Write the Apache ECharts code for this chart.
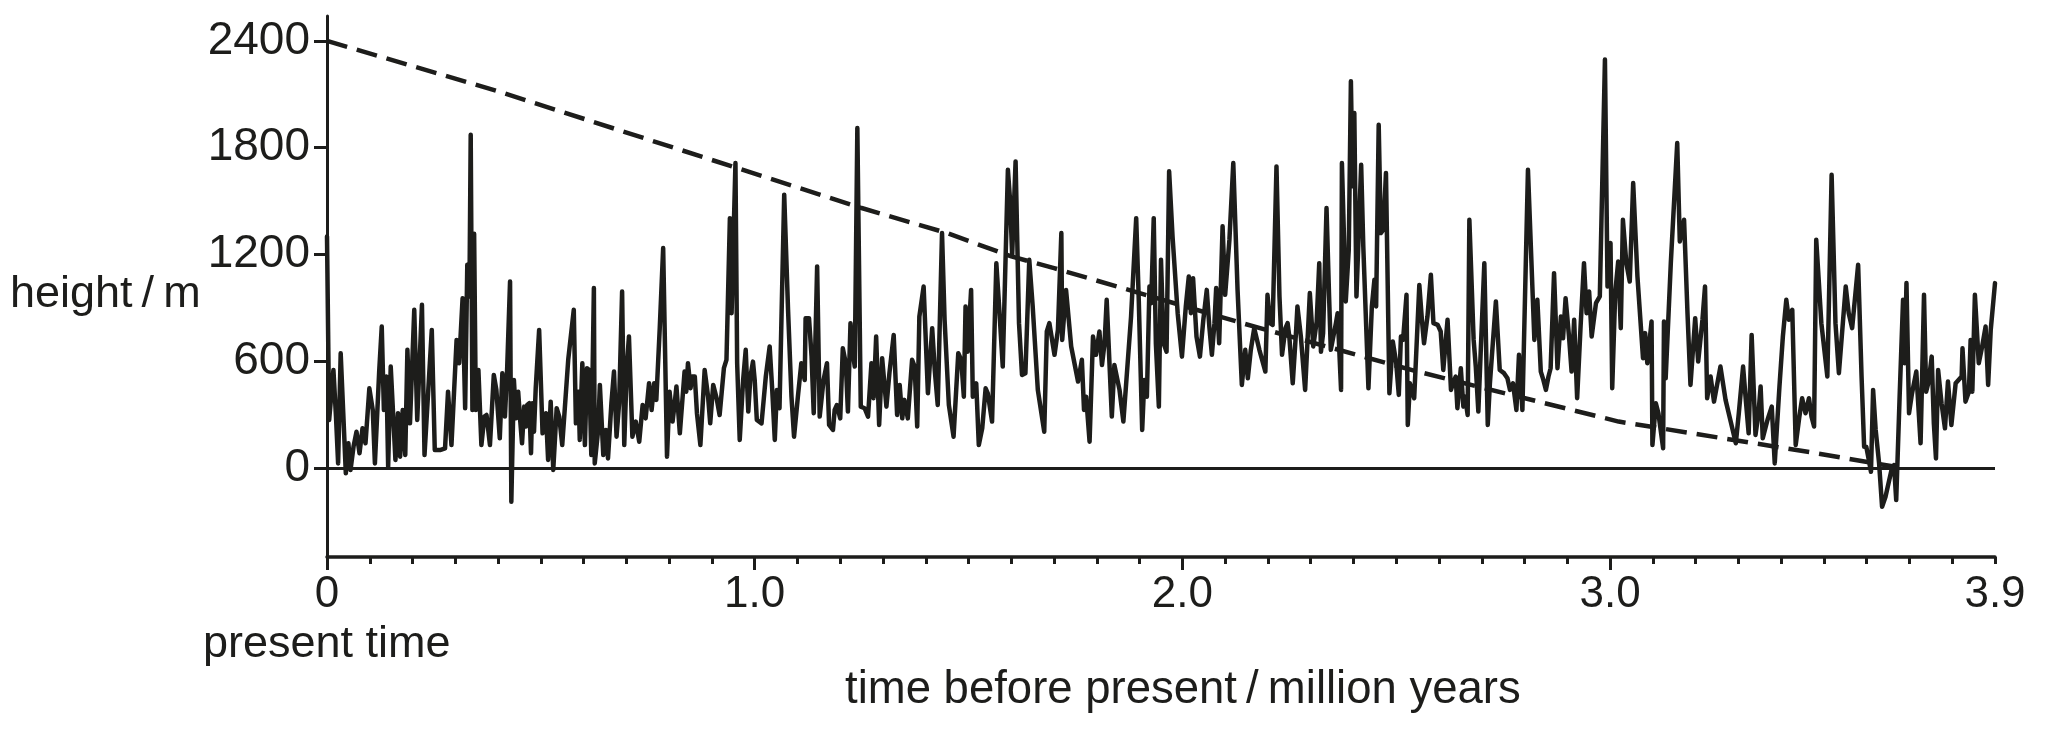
<!DOCTYPE html>
<html><head><meta charset="utf-8">
<script src="https://cdn.jsdelivr.net/npm/echarts@6/dist/echarts.min.js"></script>
<style>html,body{margin:0;padding:0;background:#fff}#c{width:2049px;height:731px}</style>
</head><body><div id="c"></div>
<script>
// time before present (million years)
const timeMa = [
0,.005,.015,.021,.026,.032,.038,.044,.050,.055,.062,.069,.076,.083,.090,.099,.107,.112,.122,.128,.133,.139,.143,.149,.160,.166,.171,.177,.183,.188,.194,.204,.211,.222,.228,.245,.252,.264,.276,.283,.291,.303,.309,.317,.323,.328,.333,.336,.340,.344,.348,.354,.361,.368,.373,.381,.390,.396,.404,
.410,.416,.421,.428,.431,.437,.442,.447,.451,.456,.461,.465,.468,.473,.477,.480,.484,.488,.496,.504,.512,.517,.523,.529,.537,.543,.550,.564,.577,.582,.588,.591,.597,.603,.608,.613,.618,.624,.626,.634,.638,.646,.652,.657,.665,.671,.677,.683,.690,.695,.701,.706,.714,.722,.730,.738,.745,.753,.759,.765,.770,.778,.786,.795,.801,.808,.813,.817,.825,
.836,.840,.844,.850,.854,.860,.865,.873,.883,.891,.896,.903,.911,.918,.928,.934,.942,.946,.949,.955,.959,.965,.973,.979,.985,.990,.996,1.000,1.005,1.016,1.026,1.035,1.041,1.047,1.052,1.058,1.069,1.078,1.086,1.092,1.101,1.109,1.117,1.119,1.127,1.133,1.138,1.146,1.152,1.161,1.169,1.174,1.183,1.187,1.192,1.200,1.206,1.213,1.218,1.224,1.230,1.234,1.240,1.248,1.257,1.265,
1.273,1.278,1.284,1.291,1.298,1.308,1.315,1.325,1.333,1.339,1.345,1.350,1.358,1.368,1.374,1.380,1.385,1.395,1.405,1.415,1.421,1.428,1.438,1.444,1.454,1.465,1.476,1.483,1.489,1.493,1.498,1.506,1.510,1.518,1.524,1.532,1.540,1.545,1.555,1.565,1.572,1.580,1.592,1.597,1.602,1.610,1.618,1.625,1.633,1.642,1.650,1.662,1.677,1.683,1.689,
1.701,1.709,1.717,1.719,1.728,1.740,1.756,1.765,1.770,1.775,1.783,1.791,1.798,1.806,1.812,1.818,1.823,1.835,1.841,1.853,1.862,1.880,1.892,1.898,1.906,1.911,1.917,1.923,1.927,1.933,1.938,1.945,1.950,1.956,1.963,1.969,1.977,1.989,1.999,2.008,2.015,2.020,2.025,2.033,2.041,2.049,2.057,2.063,2.069,2.075,2.079,2.086,2.094,2.100,2.110,2.119,2.129,2.139,
2.147,2.153,2.160,2.168,2.180,2.194,2.199,2.205,2.211,2.220,2.227,2.233,2.241,2.246,2.250,2.258,2.266,2.269,2.277,2.287,2.298,2.306,2.314,2.320,2.324,2.329,2.337,2.343,2.347,2.359,2.363,2.371,2.373,2.382,2.389,2.394,2.398,2.402,2.407,2.418,2.423,2.435,2.443,2.449,2.453,2.459,2.464,2.470,2.476,2.484,2.492,2.500,2.506,2.511,2.516,2.524,2.527,2.532,2.542,2.554,2.560,2.565,2.573,2.581,2.587,
2.597,2.604,2.610,2.620,2.628,2.633,2.639,2.643,2.651,2.657,2.661,2.667,2.671,2.681,2.686,2.692,2.698,2.706,2.714,2.719,2.733,2.742,2.752,2.760,2.766,2.773,2.781,2.787,2.795,2.808,2.823,2.830,2.838,2.844,2.850,2.856,2.861,2.869,2.877,2.885,2.890,2.896,2.904,2.910,2.916,2.923,2.931,2.939,2.945,2.951,2.957,2.967,2.976,2.988,2.994,3.001,3.005,3.012,3.019,3.025,3.030,
3.038,3.046,3.054,3.064,3.077,3.082,3.087,3.097,3.099,3.107,3.113,3.124,3.126,3.130,3.142,3.157,3.163,3.173,3.181,3.188,3.199,3.206,3.216,3.222,3.227,3.235,3.243,3.258,3.270,3.282,3.294,3.301,3.311,3.318,3.324,3.331,3.340,3.347,3.352,3.357,3.368,3.378,3.385,3.396,3.404,3.412,3.418,3.426,3.434,3.442,3.449,3.457,3.465,3.471,
3.477,3.482,3.494,3.508,3.518,3.527,3.535,3.543,3.551,3.558,3.566,3.580,3.588,3.594,3.599,3.605,3.610,3.615,3.621,3.629,3.636,3.644,3.658,3.664,3.669,3.677,3.685,3.689,3.693,3.699,3.706,3.716,3.726,3.734,3.739,3.745,3.752,3.757,3.762,3.767,3.775,3.783,3.790,3.798,3.808,3.822,3.824,3.831,3.839,3.843,3.847,3.853,3.862,3.870,3.878,3.884,3.890,3.900
];
// height (m)
const heightM = [
1301,270,551,289,26,645,308,-30,139,-11,120,204,83,223,139,448,326,26,542,795,326,514,8,570,45,308,64,326,73,664,251,889,270,917,73,776,101,101,111,429,129,720,589,954,336,1142,964,1873,326,1316,326,551,129,289,298,129,523,439,167,
533,289,542,1048,-189,495,279,429,289,139,345,233,354,364,83,364,204,448,776,195,308,45,373,-11,336,289,129,608,889,251,429,158,589,129,561,551,73,1011,26,214,467,73,214,54,364,542,176,364,992,129,570,739,176,261,148,354,279,476,326,476,383,786,1236,64,429,261,364,458,195,
542,429,589,448,514,514,308,129,551,401,251,467,392,298,561,608,1404,870,879,1714,589,158,495,664,317,514,598,495,270,251,514,683,439,158,439,336,1536,889,401,176,401,589,495,842,842,626,308,1133,289,495,589,242,214,326,354,279,673,589,317,814,636,570,1911,345,336,289,
589,392,739,242,617,345,533,748,298,467,279,383,279,608,570,233,851,1020,420,786,551,354,1320,833,354,176,645,608,401,908,654,1001,401,476,129,223,448,420,261,1151,889,570,1676,1508,1198,1723,814,523,533,1170,908,439,204,767,814,
636,776,1320,720,1001,683,486,608,326,401,148,739,636,767,579,701,945,289,579,439,261,851,1404,945,214,495,401,1020,926,1404,701,345,1170,701,654,1667,1301,870,626,908,1076,870,1067,739,626,833,1001,795,636,814,1011,701,1358,973,1283,1714,1001,467,
664,504,664,786,664,542,973,814,804,1695,964,636,786,814,739,476,776,908,739,439,983,683,823,1151,654,758,1461,964,664,814,870,439,1714,936,1226,2173,1583,1995,964,1704,1245,448,908,1058,908,1929,1320,1339,1658,420,711,589,411,739,720,973,242,476,392,1029,833,701,851,1086,814,
804,767,551,833,439,476,514,336,561,345,401,298,1395,720,570,317,683,1151,242,476,936,551,533,504,439,476,326,636,326,1676,720,945,542,495,439,514,561,1095,561,851,729,954,739,542,833,392,795,1151,870,992,739,926,964,2295,1020,1264,448,983,1161,786,1395,
1151,1048,1601,1076,617,758,589,823,129,364,308,111,823,504,1151,1826,1273,1395,870,467,842,598,833,1020,392,514,373,570,383,261,139,308,570,364,195,748,186,308,458,167,270,345,26,458,739,945,833,889,129,279,392,308,392,289,
233,1283,814,514,1648,814,533,776,1020,870,786,1142,514,120,120,45,-21,439,214,26,-218,-161,-11,17,-180,401,945,589,1039,308,420,542,139,973,429,486,626,251,54,551,364,223,486,242,476,514,673,373,429,720,429,973,589,683,795,467,776,1039
];
// dashed reference line
const envTime = [0,0.40,0.83,1.25,1.45,1.60,1.70,1.90,2.14,2.55,3.02,3.47,3.66];
const envHeight = [2400,2117,1785,1461,1320,1189,1123,983,814,542,261,88,10];
// axis tick labels
const xLabelValues = [0,1,2,3,3.9];
const xMajorTicks = [0,1,2,3];
const yTickValues = [0,600,1200,1800,2400];

const INK = '#1d1d1b';
const FONT = '"Liberation Sans", Arial, Helvetica, sans-serif';

const chart = echarts.init(document.getElementById('c'), null, {renderer:'canvas'});
const mainData = timeMa.map((t,i)=>[t, heightM[i]]);
const envData = envTime.map((t,i)=>[t, envHeight[i]]);

chart.setOption({
  animation:false,
  backgroundColor:'#fff',
  grid:{left:327, right:54, top:16, bottom:174, containLabel:false},
  xAxis:[{
    type:'value', min:0, max:3.9, interval:0.1,
    axisLine:{show:true, onZero:false, lineStyle:{color:INK, width:3.5}},
    axisTick:{show:true, length:7, lineStyle:{color:INK, width:3}},
    axisLabel:{show:true, customValues:xLabelValues, margin:16, color:INK, fontSize:44, fontFamily:FONT,
      formatter:v=> v===0 ? '0' : v.toFixed(1)},
    splitLine:{show:false}
  },{
    type:'value', min:0, max:3.9, position:'bottom',
    axisLine:{show:false, onZero:false},
    axisTick:{show:true, customValues:xMajorTicks, length:13, lineStyle:{color:INK, width:3}},
    axisLabel:{show:false},
    splitLine:{show:false}
  }],
  yAxis:{
    type:'value', min:-500, max:2540,
    axisLine:{show:true, onZero:false, lineStyle:{color:INK, width:3}},
    axisTick:{show:true, customValues:yTickValues, length:13, lineStyle:{color:INK, width:3}},
    axisLabel:{show:true, customValues:yTickValues, margin:17, color:INK, fontSize:46, fontFamily:FONT,
      formatter:v=> String(v)},
    splitLine:{show:false}
  },
  series:[{
    type:'line', data:mainData, xAxisIndex:0, symbol:'none', smooth:false,
    lineStyle:{color:INK, width:4.5, join:'round', cap:'round'},
    markLine:{silent:true, symbol:['none','none'], label:{show:false},
      lineStyle:{color:INK, width:3, type:'solid'}, data:[{yAxis:0}]},
    z:3
  },{
    type:'line', data:envData, xAxisIndex:0, symbol:'none',
    lineStyle:{color:INK, width:4.5, type:[21,10]},
    z:2
  }],
  graphic:[
    {type:'text', x:10, y:295, style:{text:'height\u2009/\u2009m', font:'45px '+FONT, fill:INK, align:'left', verticalAlign:'middle'}},
    {type:'text', x:203, y:645, style:{text:'present time', font:'45px '+FONT, fill:INK, align:'left', verticalAlign:'middle'}},
    {type:'text', x:845, y:690, style:{text:'time before present\u2009/\u2009million years', font:'45.5px '+FONT, fill:INK, align:'left', verticalAlign:'middle'}}
  ]
});
</script>
</body></html>
